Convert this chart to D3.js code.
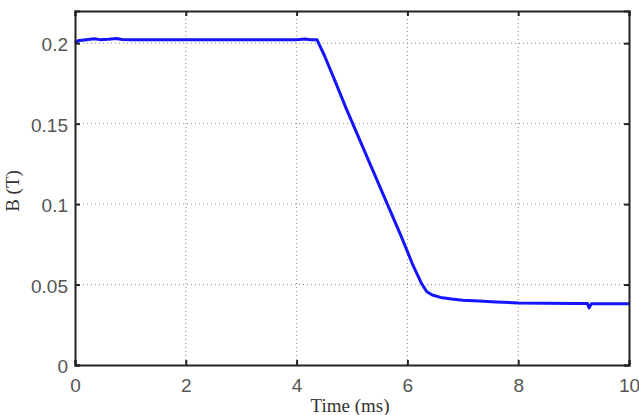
<!DOCTYPE html>
<html>
<head>
<meta charset="utf-8">
<script src="https://cdn.jsdelivr.net/npm/d3@7"></script>
<style>
    body { margin: 0; background: #fff; }
    .tick text { fill: #555; font-family: "Liberation Sans", Arial, sans-serif; font-size: 19px; }
</style>
</head>
<body>
<div id="chart-area"></div>
<script>
// values
let times = [0, 0.05, 0.2, 0.35, 0.45, 0.6, 0.75, 0.85, 1.0, 1.2, 1.5, 1.8, 2.1, 2.5, 2.9, 3.3,
    3.7, 4.0, 4.15, 4.25, 4.37, 4.5, 4.7, 4.9, 5.1, 5.3, 5.5, 5.7, 5.9, 6.1, 6.25, 6.35, 6.45,
    6.6, 6.8, 7.0, 7.3, 7.6, 8.0, 8.5, 9.0, 9.25, 9.28, 9.32, 9.6, 10];
let bValues = [0.2, 0.2015, 0.2022, 0.2028, 0.2022, 0.2024, 0.2029, 0.2023, 0.2021, 0.2022, 0.2021,
    0.2021, 0.2022, 0.2021, 0.2021, 0.2022, 0.2021, 0.2022, 0.2026, 0.2021, 0.2021, 0.1925, 0.176,
    0.159, 0.143, 0.127, 0.111, 0.095, 0.079, 0.062, 0.051, 0.0455, 0.0435, 0.042, 0.041, 0.0403,
    0.0398, 0.0392, 0.0386, 0.0384, 0.0382, 0.0382, 0.0355, 0.0381, 0.0381, 0.038];
let xTicks = [0, 2, 4, 6, 8, 10];
let yTicks = [0, 0.05, 0.1, 0.15, 0.2];

let width = 639, height = 415;
let plotLeft = 75, plotRight = 629, plotTop = 11, plotBottom = 365;

let svg = d3.select("#chart-area")
    .append("svg")
    .attr("width", width)
    .attr("height", height);

let x = d3.scaleLinear().domain([0, 10]).range([plotLeft, plotRight]);
let y = d3.scaleLinear().domain([0, 0.22]).range([plotBottom, plotTop]);

// dotted grid
svg.append("g").selectAll("line").data(xTicks.slice(1, -1)).enter().append("line")
    .attr("x1", d => x(d)).attr("x2", d => x(d))
    .attr("y1", plotTop).attr("y2", plotBottom)
    .attr("stroke", "#888").attr("stroke-width", 1).attr("stroke-dasharray", "1,3");
svg.append("g").selectAll("line").data(yTicks.slice(1)).enter().append("line")
    .attr("x1", plotLeft).attr("x2", plotRight)
    .attr("y1", d => y(d)).attr("y2", d => y(d))
    .attr("stroke", "#888").attr("stroke-width", 1).attr("stroke-dasharray", "1,3");

// data line
let line = d3.line()
    .x((d, i) => x(times[i]))
    .y(d => y(d));
svg.append("path")
    .attr("d", line(bValues))
    .attr("fill", "none")
    .attr("stroke", "#1414ff")
    .attr("stroke-width", 3)
    .attr("stroke-linejoin", "round");

// axes
let xAxis = svg.append("g")
    .attr("transform", "translate(0," + plotBottom + ")")
    .call(d3.axisBottom(x).tickValues(xTicks).tickSize(-5).tickPadding(10).tickFormat(d3.format("d")));
let yAxis = svg.append("g")
    .attr("transform", "translate(" + plotLeft + ",0)")
    .call(d3.axisLeft(y).tickValues(yTicks).tickSize(-5).tickPadding(7).tickFormat(d => d === 0 ? "0" : d3.format("")(d)));
svg.append("g")
    .attr("transform", "translate(0," + plotTop + ")")
    .call(d3.axisTop(x).tickValues(xTicks).tickSize(-5).tickFormat(""));
svg.append("g")
    .attr("transform", "translate(" + plotRight + ",0)")
    .call(d3.axisRight(y).tickValues(yTicks).tickSize(-5).tickFormat(""));

svg.selectAll(".domain").attr("stroke", "#222").attr("stroke-width", 2);
svg.selectAll(".tick line").attr("stroke", "#222").attr("stroke-width", 2);
xAxis.selectAll(".tick text").attr("dy", "0.9em");
yAxis.selectAll(".tick text").attr("dy", "0.4em");

// axis titles
svg.append("text")
    .attr("x", 350).attr("y", 412)
    .attr("text-anchor", "middle")
    .attr("font-family", "Liberation Serif, Times New Roman, serif")
    .attr("font-size", 19)
    .attr("fill", "#333")
    .text("Time (ms)");
svg.append("text")
    .attr("transform", "translate(19,191) rotate(-90)")
    .attr("text-anchor", "middle")
    .attr("font-family", "Liberation Serif, Times New Roman, serif")
    .attr("font-size", 19)
    .attr("fill", "#333")
    .text("B (T)");
</script>
</body>
</html>
